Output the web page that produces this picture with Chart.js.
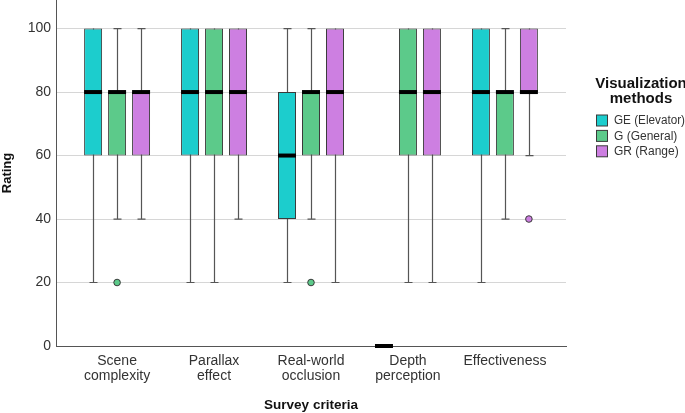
<!DOCTYPE html>
<html>
<head>
<meta charset="utf-8">
<script src="https://cdn.jsdelivr.net/npm/chart.js@4.4.1/dist/chart.umd.min.js"></script>
<style>
  html, body { margin: 0; padding: 0; background: #ffffff; }
  #wrap { width: 685px; height: 413px; }
</style>
</head>
<body>
<div id="wrap"><canvas id="c" width="685" height="413"></canvas></div>
<script>
// ---- Data ----
const criteria = [['Scene', 'complexity'], ['Parallax', 'effect'], ['Real-world', 'occlusion'], ['Depth', 'perception'], ['Effectiveness']];
const seriesNames = ['GE (Elevator)', 'G (General)', 'GR (Range)'];
const seriesColors = ['#1ccdcd', '#5cca8a', '#cd7fe1'];
const yTicks = [0, 20, 40, 60, 80, 100];

const geMin = [20, 20, 20, 0, 20];
const geQ1  = [60, 60, 40, 0, 60];
const geMed = [80, 80, 60, 0, 80];
const geQ3  = [100, 100, 80, 0, 100];
const geMax = [100, 100, 100, 0, 100];
const geOut = [[], [], [], [], []];

const gMin = [40, 20, 40, 20, 40];
const gQ1  = [60, 60, 60, 60, 60];
const gMed = [80, 80, 80, 80, 80];
const gQ3  = [80, 100, 80, 100, 80];
const gMax = [100, 100, 100, 100, 100];
const gOut = [[20], [], [20], [], []];

const grMin = [40, 40, 20, 20, 60];
const grQ1  = [60, 60, 60, 60, 80];
const grMed = [80, 80, 80, 80, 80];
const grQ3  = [80, 100, 100, 100, 100];
const grMax = [100, 100, 100, 100, 100];
const grOut = [[], [], [], [], [40]];

// ---- Build structures for the library ----
const stats = [
  { min: geMin, q1: geQ1, med: geMed, q3: geQ3, max: geMax, out: geOut },
  { min: gMin, q1: gQ1, med: gMed, q3: gQ3, max: gMax, out: gOut },
  { min: grMin, q1: grQ1, med: grMed, q3: grQ3, max: grMax, out: grOut }
];

const FONT = "'Liberation Sans', Arial, sans-serif";
const TEXT = '#333333';

const datasets = stats.map((s, d) => ({
  label: seriesNames[d],
  data: s.q1.map((q, i) => ({ x: i, y: [q, s.q3[i]] })),
  backgroundColor: seriesColors[d],
  borderColor: '#3a3a3a',
  borderWidth: 1,
  borderSkipped: false,
  categoryPercentage: 0.742,
  barPercentage: 0.75
}));

const boxPlugin = {
  id: 'boxparts',
  beforeDatasetsDraw(chart) {
    const ctx = chart.ctx, y = chart.scales.y;
    ctx.save();
    ctx.strokeStyle = '#555555';
    ctx.lineWidth = 1.2;
    stats.forEach((s, d) => {
      const meta = chart.getDatasetMeta(d);
      meta.data.forEach((el, i) => {
        const x = Math.round(el.x) + 0.5;
        const yMin = y.getPixelForValue(s.min[i]);
        const yMax = y.getPixelForValue(s.max[i]);
        ctx.beginPath();
        ctx.moveTo(x, yMin); ctx.lineTo(x, yMax);
        if (s.min[i] < s.q1[i]) { ctx.moveTo(x - 4, yMin); ctx.lineTo(x + 4, yMin); }
        if (s.max[i] > s.q3[i]) { ctx.moveTo(x - 4, yMax); ctx.lineTo(x + 4, yMax); }
        ctx.stroke();
      });
    });
    ctx.restore();
  },
  afterDatasetsDraw(chart) {
    const ctx = chart.ctx, y = chart.scales.y;
    ctx.save();
    stats.forEach((s, d) => {
      const meta = chart.getDatasetMeta(d);
      meta.data.forEach((el, i) => {
        const half = el.width / 2;
        const ym = y.getPixelForValue(s.med[i]);
        ctx.fillStyle = '#000000';
        ctx.fillRect(el.x - half, ym - 2, el.width, 4);
        s.out[i].forEach(v => {
          ctx.beginPath();
          ctx.arc(el.x, y.getPixelForValue(v), 3.3, 0, Math.PI * 2);
          ctx.fillStyle = seriesColors[d];
          ctx.fill();
          ctx.lineWidth = 1;
          ctx.strokeStyle = '#3a3a3a';
          ctx.stroke();
        });
      });
    });
    ctx.restore();
  },
  afterDraw(chart) {
    const ctx = chart.ctx;
    ctx.save();
    ctx.fillStyle = '#111111';
    ctx.font = 'bold 15px ' + FONT;
    ctx.textAlign = 'center';
    ctx.textBaseline = 'middle';
    ctx.fillText('Visualization', 641, 84);
    ctx.fillText('methods', 641, 99);
    ctx.font = '12px ' + FONT;
    ctx.textAlign = 'left';
    chart.data.datasets.forEach((ds, d) => {
      const cy = 120.5 + d * 15.4;
      ctx.fillStyle = ds.backgroundColor;
      ctx.fillRect(596.5, cy - 5.5, 11, 11);
      ctx.strokeStyle = '#3a3a3a';
      ctx.lineWidth = 1;
      ctx.strokeRect(596.5, cy - 5.5, 11, 11);
      ctx.fillStyle = TEXT;
      ctx.fillText(ds.label, 614, cy + 0.5, 71);
    });
    ctx.restore();
  }
};

new Chart(document.getElementById('c'), {
  type: 'bar',
  data: { datasets },
  plugins: [boxPlugin],
  options: {
    responsive: false,
    devicePixelRatio: 1,
    animation: false,
    layout: { padding: { left: 0, right: 119, top: 0, bottom: 0 } },
    plugins: { legend: { display: false }, tooltip: { enabled: false } },
    scales: {
      x: {
        type: 'linear',
        offset: false,
        min: -0.63,
        max: 4.63,
        grid: { display: false, drawTicks: false, offset: false },
        border: { display: true, color: '#555555', width: 1 },
        ticks: {
          stepSize: 1,
          includeBounds: false,
          autoSkip: false,
          maxRotation: 0,
          padding: 8,
          color: TEXT,
          font: { family: FONT, size: 14, lineHeight: '15px' },
          callback: (v) => (Number.isInteger(v) && criteria[v]) ? criteria[v] : ''
        },
        title: {
          display: true,
          text: 'Survey criteria',
          color: '#111111',
          font: { family: FONT, size: 13.5, weight: 'bold' },
          padding: { top: 0, bottom: 0 }
        },
        afterFit(scale) { scale.height = 67; scale.paddingLeft = 0; scale.paddingRight = 0; }
      },
      y: {
        type: 'linear',
        min: 0,
        max: 109,
        grid: { color: '#d6d6d6', lineWidth: 1, drawTicks: false },
        border: { display: true, color: '#555555', width: 1 },
        ticks: {
          stepSize: 20,
          padding: 5,
          color: TEXT,
          font: { family: FONT, size: 14 }
        },
        afterBuildTicks(scale) {
          scale.ticks = yTicks.map(v => ({ value: v }));
        },
        title: {
          display: true,
          text: 'Rating',
          color: '#111111',
          font: { family: FONT, size: 13, weight: 'bold' },
          padding: { top: 0, bottom: 0 }
        },
        afterFit(scale) { scale.width = 56; scale.paddingTop = 0; scale.paddingBottom = 0; }
      }
    }
  }
});
</script>
</body>
</html>
